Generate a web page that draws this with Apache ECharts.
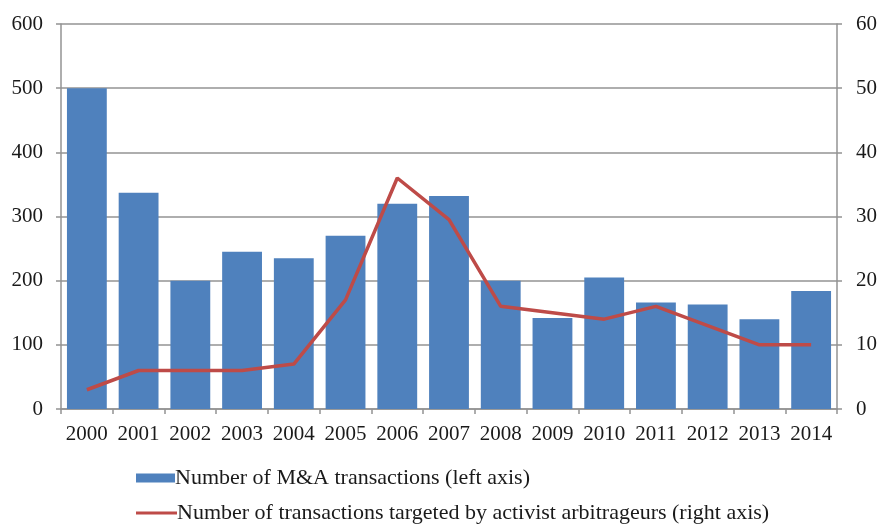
<!DOCTYPE html>
<html>
<head>
<meta charset="utf-8">
<script src="https://cdn.jsdelivr.net/npm/echarts@6/dist/echarts.min.js"></script>
<style>
  html, body { margin: 0; padding: 0; background: #fff; }
  #chart { width: 880px; height: 524px; }
</style>
</head>
<body>
<div id="chart"></div>
<script>
// Years on the category axis
const years = ['2000', '2001', '2002', '2003', '2004', '2005', '2006', '2007',
               '2008', '2009', '2010', '2011', '2012', '2013', '2014'];
// Number of M&A transactions (left axis)
const mnaDeals = [500, 337, 200, 245, 235, 270, 320, 332, 200, 142, 205, 166, 163, 140, 184];
// Number of transactions targeted by activist arbitrageurs (right axis)
const activistDeals = [3, 6, 6, 6, 7, 17, 36, 29.5, 16, 15, 14, 16, 13, 10, 10];

const barName = 'Number of M&A transactions (left axis)';
const lineName = 'Number of transactions targeted by activist arbitrageurs (right axis)';

const serif = '"Liberation Serif", "DejaVu Serif", serif';
const gridColor = '#939393';
const labelColor = '#1a1a1a';

const chart = echarts.init(document.getElementById('chart'));
chart.setOption({
  animation: false,
  textStyle: { fontFamily: serif },
  grid: { left: 61, right: 42, top: 24, bottom: 115 },
  legend: [
    {
      data: [barName],
      left: 131, top: 462,
      icon: 'rect', itemWidth: 39, itemHeight: 9, itemGap: 0,
      textStyle: { fontFamily: serif, fontSize: 22, color: labelColor, padding: [0, 0, 0, -5] }
    },
    {
      data: [{ name: lineName, icon: 'rect' }],
      left: 131, top: 497,
      itemWidth: 41, itemHeight: 3,
      textStyle: { fontFamily: serif, fontSize: 22, color: labelColor, padding: [0, 0, 0, -5] }
    }
  ],
  xAxis: {
    type: 'category',
    data: years,
    boundaryGap: true,
    axisLine: { lineStyle: { color: gridColor, width: 1.5 } },
    axisTick: { show: true, alignWithLabel: false, interval: 0, length: 5, lineStyle: { color: gridColor, width: 1.5 } },
    axisLabel: { color: labelColor, fontSize: 21, fontFamily: serif, margin: 15, interval: 0 }
  },
  yAxis: [
    {
      type: 'value', min: 0, max: 600, interval: 100,
      axisLine: { show: true, lineStyle: { color: gridColor, width: 1.5 } },
      axisTick: { show: true, length: 5, lineStyle: { color: gridColor, width: 1.5 } },
      axisLabel: { color: labelColor, fontSize: 21, fontFamily: serif, margin: 18 },
      splitLine: { show: true, lineStyle: { color: gridColor, width: 1.5 } }
    },
    {
      type: 'value', min: 0, max: 60, interval: 10,
      axisLine: { show: true, lineStyle: { color: gridColor, width: 1.5 } },
      axisTick: { show: true, length: 5, lineStyle: { color: gridColor, width: 1.5 } },
      axisLabel: { color: labelColor, fontSize: 21, fontFamily: serif, margin: 19 },
      splitLine: { show: false }
    }
  ],
  series: [
    {
      name: barName,
      type: 'bar',
      yAxisIndex: 0,
      data: mnaDeals,
      barCategoryGap: '23%',
      itemStyle: { color: '#4F81BD' }
    },
    {
      name: lineName,
      type: 'line',
      yAxisIndex: 1,
      data: activistDeals,
      symbol: 'none',
      lineStyle: { color: '#BE4B48', width: 3.5 },
      itemStyle: { color: '#BE4B48' }
    }
  ]
});
</script>
</body>
</html>
